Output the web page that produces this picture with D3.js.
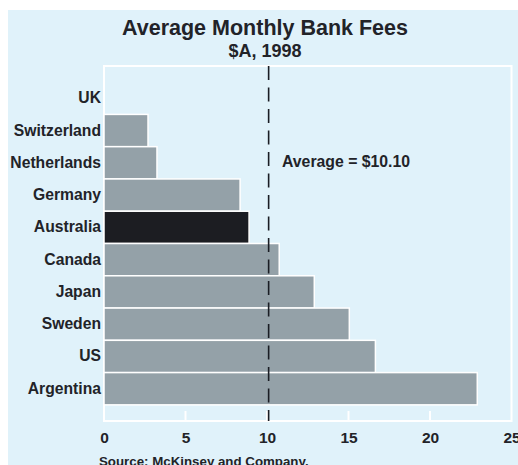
<!DOCTYPE html>
<html>
<head>
<meta charset="utf-8">
<script src="https://cdn.jsdelivr.net/npm/d3@7"></script>
<style>
body { margin: 0; background: #fff; }
text { font-family: "Liberation Sans", Arial, Helvetica, sans-serif; font-weight: bold; fill: #222328; }
</style>
</head>
<body>
<div id="chart"></div>
<script>
var countries = ["UK", "Switzerland", "Netherlands", "Germany", "Australia", "Canada", "Japan", "Sweden", "US", "Argentina"];
var fees = [0, 2.7, 3.25, 8.35, 8.9, 10.75, 12.9, 15.05, 16.65, 22.9];
var average = 10.1;
var xTicks = [0, 5, 10, 15, 20, 25];

var width = 518;
var height = 465;
var plot = {left: 104, right: 511.5, top: 66, bottom: 421};

var svg = d3.select("#chart")
    .append("svg")
        .attr("width", width)
        .attr("height", height);

// panel background
svg.append("rect")
    .attr("x", 8)
    .attr("y", 10)
    .attr("width", width - 8)
    .attr("height", height - 10)
    .attr("fill", "#e0f2fa");

svg.append("text")
    .attr("x", 265)
    .attr("y", 35)
    .attr("text-anchor", "middle")
    .style("font-size", "21.5px")
    .text("Average Monthly Bank Fees");

svg.append("text")
    .attr("x", 265)
    .attr("y", 57)
    .attr("text-anchor", "middle")
    .style("font-size", "18px")
    .text("$A, 1998");

var xscale = d3.scaleLinear()
    .domain([0, 25])
    .range([plot.left, plot.right]);
var yscale = d3.scaleBand()
    .domain(countries)
    .range([plot.top, plot.bottom])
    .paddingInner(0)
    .paddingOuter(0.5);

// plot frame
svg.append("rect")
    .attr("x", plot.left)
    .attr("y", plot.top)
    .attr("width", plot.right - plot.left)
    .attr("height", plot.bottom - plot.top)
    .attr("fill", "none")
    .attr("stroke", "#fff")
    .attr("stroke-width", 2);

// short white ticks up from the bottom
svg.selectAll(".tick-mark")
    .data(xTicks.slice(1, -1))
    .enter().append("line")
    .attr("class", "tick-mark")
    .attr("x1", function(d){ return xscale(d); })
    .attr("x2", function(d){ return xscale(d); })
    .attr("y1", plot.bottom)
    .attr("y2", plot.bottom - 10)
    .attr("stroke", "#fff")
    .attr("stroke-width", 2);

svg.selectAll(".bar")
    .data(countries)
    .enter().append("rect")
    .attr("class", "bar")
    .attr("x", xscale(0))
    .attr("y", function(d){ return yscale(d); })
    .attr("width", function(d, i){ return xscale(fees[i]) - xscale(0); })
    .attr("height", yscale.bandwidth())
    .attr("fill", function(d){ return d == "Australia" ? "#1c1d22" : "#94a1a8"; })
    .attr("stroke", "#fff")
    .attr("stroke-width", 1.5);

// country labels
var y_axis = d3.axisLeft(yscale).tickSize(0).tickPadding(3);
var yg = svg.append("g")
    .attr("transform", "translate(" + plot.left + ",0)")
    .call(y_axis);
yg.select(".domain").remove();
yg.selectAll("text")
    .style("font-size", "15.7px")
    .attr("fill", "#222328");

var x_axis = d3.axisBottom(xscale).tickValues(xTicks).tickSize(0).tickPadding(0);
var xg = svg.append("g")
    .attr("transform", "translate(0," + plot.bottom + ")")
    .call(x_axis);
xg.select(".domain").remove();
xg.selectAll("text")
    .attr("y", 22)
    .attr("dy", 0)
    .style("font-size", "15.5px")
    .attr("fill", "#222328");

// average line
svg.append("line")
    .attr("x1", xscale(average))
    .attr("x2", xscale(average))
    .attr("y1", plot.top)
    .attr("y2", plot.bottom)
    .attr("stroke", "#1a1d24")
    .attr("stroke-width", 1.6)
    .attr("stroke-dasharray", "14,7.5");

svg.append("text")
    .attr("x", 282)
    .attr("y", 167)
    .style("font-size", "15.8px")
    .text("Average = $10.10");

svg.append("text")
    .attr("x", 99)
    .attr("y", 466)
    .style("font-size", "13.3px")
    .text("Source: McKinsey and Company.");
</script>
</body>
</html>
